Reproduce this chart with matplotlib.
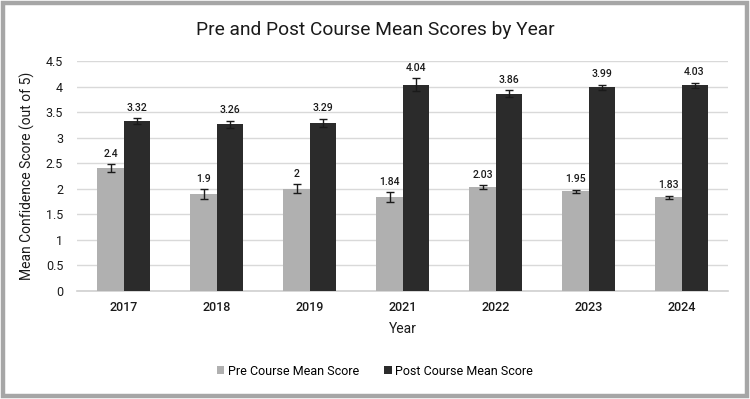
import matplotlib
matplotlib.use("Agg")
import matplotlib.pyplot as plt
from matplotlib.patches import Rectangle
import numpy as np

years = ["2017", "2018", "2019", "2021", "2022", "2023", "2024"]
pre_mean = [2.4, 1.9, 2.0, 1.84, 2.03, 1.95, 1.83]
post_mean = [3.32, 3.26, 3.29, 4.04, 3.86, 3.99, 4.03]
pre_err = [0.08, 0.09, 0.09, 0.09, 0.04, 0.03, 0.03]
post_err = [0.06, 0.075, 0.075, 0.12, 0.07, 0.05, 0.05]
pre_labels = ["2.4", "1.9", "2", "1.84", "2.03", "1.95", "1.83"]
post_labels = ["3.32", "3.26", "3.29", "4.04", "3.86", "3.99", "4.03"]

plt.rcParams['font.family'] = ['Roboto', 'DejaVu Sans']

fig = plt.figure(figsize=(7.5, 3.99), dpi=100)
ax = fig.add_axes([0.1027, 0.2707, 0.868, 0.5763])

pre_color = "#b0b0b0"
post_color = "#2b2b2b"
x = np.arange(len(years))
w = 0.28
ekw = dict(ecolor="#1a1a1a", elinewidth=1.0, capsize=3, capthick=1.0)
ax.bar(x - w/2, pre_mean, w, color=pre_color, yerr=pre_err, error_kw=ekw,
       label="Pre Course Mean Score", zorder=3)
ax.bar(x + w/2, post_mean, w, color=post_color, yerr=post_err, error_kw=ekw,
       label="Post Course Mean Score", zorder=3)

for i in range(len(years)):
    ax.annotate(pre_labels[i], (x[i] - w/2, pre_mean[i] + pre_err[i]),
                xytext=(0, 4), textcoords="offset points", ha="center", va="bottom",
                fontsize=7.5, fontweight="medium", color="#1a1a1a")
    ax.annotate(post_labels[i], (x[i] + w/2, post_mean[i] + post_err[i]),
                xytext=(0, 4), textcoords="offset points", ha="center", va="bottom",
                fontsize=7.5, fontweight="medium", color="#1a1a1a")

ax.set_xlim(-0.5, len(years) - 0.5)
ax.set_ylim(0, 4.5)
ax.set_yticks(np.arange(0, 4.51, 0.5))
ax.set_yticklabels(["0", "0.5", "1", "1.5", "2", "2.5", "3", "3.5", "4", "4.5"])
ax.set_xticks(x)
ax.set_xticklabels(years, fontweight="medium")
ax.tick_params(axis="both", length=0, labelsize=9, colors="#1a1a1a")
ax.tick_params(axis="x", pad=7)
ax.tick_params(axis="y", pad=10)
ax.yaxis.grid(True, color="#d9d9d9", linewidth=1.0, zorder=0)
ax.set_axisbelow(True)
for s in ["top", "right", "left"]:
    ax.spines[s].set_visible(False)
ax.spines["bottom"].set_color("#d0d0d0")
ax.spines["bottom"].set_linewidth(1.2)

ax.set_xlabel("Year", fontsize=10, color="#1a1a1a", labelpad=6)
ax.set_ylabel("Mean Confidence Score (out of 5)", fontsize=10, color="#1a1a1a", labelpad=8)

fig.text(0.5, 0.925, "Pre and Post Course Mean Scores by Year", ha="center", va="center",
         fontsize=13.8, color="#1a1a1a")

leg = fig.legend(loc="center", bbox_to_anchor=(0.5, 0.07), ncol=2, frameon=False,
                 fontsize=9, handlelength=0.6, handleheight=0.6, handletextpad=0.3,
                 columnspacing=2.0)

fig.patches.append(Rectangle((0.004, 0.008), 0.992, 0.985, transform=fig.transFigure,
                             fill=False, edgecolor="#a6a6a6", linewidth=3.2))

fig.savefig("out.png", dpi=100)
